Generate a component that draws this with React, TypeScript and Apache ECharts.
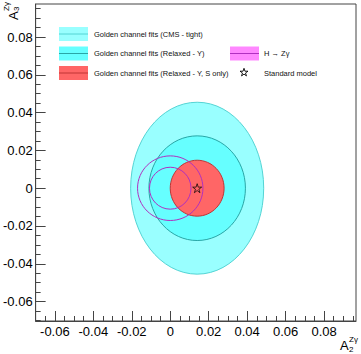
import React, { useEffect, useRef } from "react";
import * as echarts from "echarts";

// ---- data ----
const xTicks = [-0.06, -0.04, -0.02, 0, 0.02, 0.04, 0.06, 0.08];
const yTicks = [-0.06, -0.04, -0.02, 0, 0.02, 0.04, 0.06, 0.08];
const xRange = [-0.07, 0.0966];
const yRange = [-0.0703, 0.0975];
const minorStep = 0.005;

// regions: [centre x, centre y, half-width, half-height]
const cmsTight = [0.014, 0, 0.0346, 0.0455];
const relaxedY = [0.014, 0, 0.0251, 0.0277];
const relaxedYSOnly = [0.014, 0, 0.014, 0.0148];
const hzgOuter = [0, 0, 0.017, 0.0171];
const hzgInner = [0, 0, 0.0108, 0.0111];
const standardModel = [0.014, 0];

const legendLabels = [
  "Golden channel fits (CMS - tight)",
  "Golden channel fits (Relaxed - \u03A5)",
  "Golden channel fits (Relaxed - \u03A5, S only)",
  "H \u2192 Z\u03B3",
  "Standard model",
];

const FONT = "'Liberation Sans', Arial, Helvetica, sans-serif";
const STAR_PATH =
  "path://M0,-1L0.223,-0.307L0.951,-0.309L0.361,0.117L0.588,0.809L0,0.38L-0.588,0.809L-0.361,0.117L-0.951,-0.309L-0.223,-0.307Z";

const C = {
  lightFill: "#99ffff",
  lightLine: "#55d4d4",
  midFill: "#66ffff",
  midLine: "#2aa6a6",
  redFill: "#ff6666",
  redLine: "#c03434",
  mag: "#b030c0",
  magFill: "#ff88ff",
  frame: "#444444",
};

function minors(range: number[]) {
  const out: number[] = [];
  for (let v = Math.ceil(range[0] / minorStep) * minorStep; v <= range[1] + 1e-9; v += minorStep) {
    out.push(Math.round(v * 1000) / 1000);
  }
  return out;
}

function starPoints(cx: number, cy: number, r: number) {
  const pts: number[][] = [];
  for (let i = 0; i < 10; i++) {
    const a = -Math.PI / 2 + (i * Math.PI) / 5;
    const rr = i % 2 === 0 ? r : r * 0.38;
    pts.push([cx + rr * Math.cos(a), cy + rr * Math.sin(a)]);
  }
  return pts;
}

function ellipseSeries(name: string, d: number[], fill: string, stroke: string) {
  return {
    type: "custom",
    name,
    xAxisIndex: 0,
    yAxisIndex: 0,
    clip: true,
    silent: true,
    dimensions: ["x", "y", "rx", "ry"],
    encode: { x: 0, y: 1 },
    data: [d],
    renderItem: (_p: any, api: any) => {
      const c = api.coord([api.value(0), api.value(1)]);
      const s = api.size([api.value(2), api.value(3)]);
      return {
        type: "ellipse",
        shape: { cx: c[0], cy: c[1], rx: s[0], ry: s[1] },
        style: { fill, stroke, lineWidth: 1 },
      };
    },
  };
}

function titleChildren(sub: string) {
  return [
    { type: "text", x: 0, y: -4.6, style: { text: "A", fontSize: 13, fontFamily: FONT, fill: "#000", align: "left", verticalAlign: "middle" } },
    { type: "text", x: 9, y: -1.5, style: { text: sub, fontSize: 8, fontFamily: FONT, fill: "#000", align: "left", verticalAlign: "middle" } },
    { type: "text", x: 9, y: -11.5, style: { text: "Z\u03B3", fontSize: 8, fontFamily: FONT, fill: "#000", align: "left", verticalAlign: "middle" } },
  ];
}

function legendSwatch(x: number, y: number, fill: string, line: string) {
  return [
    { type: "rect", shape: { x, y, width: 29, height: 14 }, style: { fill, stroke: "none" } },
    { type: "line", shape: { x1: x, y1: y + 7, x2: x + 29, y2: y + 7 }, style: { stroke: line, lineWidth: 1 } },
  ];
}

function legendText(x: number, y: number, text: string) {
  return { type: "text", x, y, style: { text, fontSize: 7.5, fontFamily: FONT, fill: "#111", align: "left", verticalAlign: "middle" } };
}

export default function App() {
  const ref = useRef<HTMLDivElement>(null);
  useEffect(() => {
    if (!ref.current) return;
    const chart = echarts.init(ref.current, undefined, { renderer: "svg" });
    const fmt = (v: number) => (Math.abs(v) < 1e-9 ? "0" : v.toFixed(2));
    const majorAxis = (range: number[], ticks: number[], isX: boolean) => ({
      type: "value",
      min: range[0],
      max: range[1],
      position: isX ? "bottom" : "left",
      axisLine: { show: true, onZero: false, lineStyle: { color: C.frame, width: 1 } },
      axisTick: { show: true, inside: true, length: 10, customValues: ticks, lineStyle: { color: C.frame } },
      axisLabel: {
        show: true,
        customValues: ticks,
        formatter: fmt,
        fontSize: 13,
        fontFamily: FONT,
        color: "#000",
        margin: isX ? 4 : 3,
      },
      splitLine: { show: false },
    });
    const minorAxis = (range: number[], isX: boolean) => ({
      type: "value",
      min: range[0],
      max: range[1],
      position: isX ? "bottom" : "left",
      offset: 0,
      axisLine: { show: false, onZero: false },
      axisTick: { show: true, inside: true, length: 5, customValues: minors(range), lineStyle: { color: C.frame } },
      axisLabel: { show: false },
      splitLine: { show: false },
    });

    const graphics: any[] = [
      ...legendSwatch(59, 27, C.lightFill, C.lightLine),
      ...legendSwatch(59, 46.5, C.midFill, C.midLine),
      ...legendSwatch(59, 66, C.redFill, C.redLine),
      ...legendSwatch(230, 46.5, C.magFill, C.mag),
      legendText(94, 34, legendLabels[0]),
      legendText(94, 53.5, legendLabels[1]),
      legendText(94, 73, legendLabels[2]),
      legendText(264, 53.5, legendLabels[3]),
      legendText(264, 73, legendLabels[4]),
      {
        type: "polygon",
        shape: { points: starPoints(244, 72.5, 4.2) },
        style: { fill: "none", stroke: "#000", lineWidth: 0.9 },
      },
      { type: "group", x: 340, y: 350.5, children: titleChildren("2") },
      { type: "group", x: 18, y: 20, rotation: Math.PI / 2, children: titleChildren("3") },
    ];

    chart.setOption({
      animation: false,
      backgroundColor: "#ffffff",
      grid: {
        left: 33,
        top: 4,
        width: 323,
        height: 317,
        show: true,
        borderColor: C.frame,
        borderWidth: 1,
        backgroundColor: "transparent",
      },
      xAxis: [majorAxis(xRange, xTicks, true), minorAxis(xRange, true)],
      yAxis: [majorAxis(yRange, yTicks, false), minorAxis(yRange, false)],
      series: [
        ellipseSeries("Golden channel fits (CMS - tight)", cmsTight, C.lightFill, C.lightLine),
        ellipseSeries("Golden channel fits (Relaxed - Y)", relaxedY, C.midFill, C.midLine),
        ellipseSeries("Golden channel fits (Relaxed - Y, S only)", relaxedYSOnly, C.redFill, C.redLine),
        ellipseSeries("H to Zgamma outer", hzgOuter, "none", C.mag),
        ellipseSeries("H to Zgamma inner", hzgInner, "none", C.mag),
        {
          type: "scatter",
          name: "Standard model",
          xAxisIndex: 0,
          yAxisIndex: 0,
          data: [standardModel],
          symbol: STAR_PATH,
          symbolSize: 9,
          silent: true,
          itemStyle: { color: "rgba(0,0,0,0)", borderColor: "#000", borderWidth: 0.9 },
        },
      ],
      graphic: graphics,
    });
    return () => chart.dispose();
  }, []);
  return <div ref={ref} style={{ position: "fixed", left: 0, top: 0, width: 361, height: 354 }} />;
}
